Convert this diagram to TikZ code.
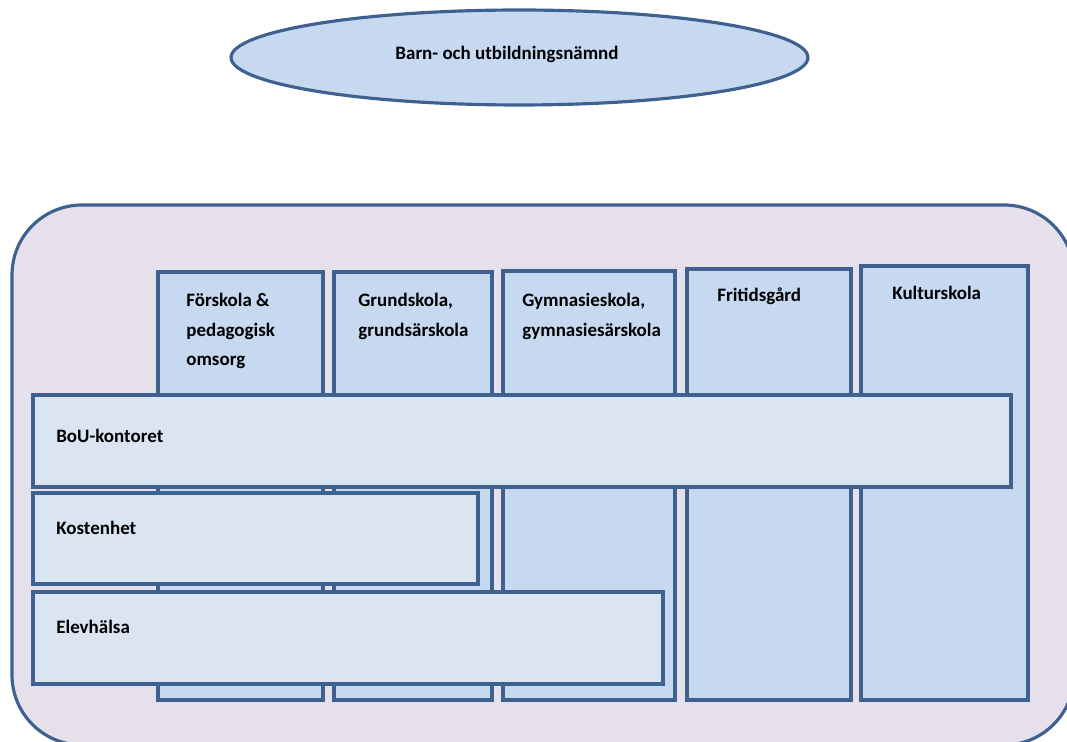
\documentclass[tikz,border=0pt]{standalone}
\usepackage{fontspec}
\setmainfont{Carlito}
\usetikzlibrary{shapes.geometric}
\definecolor{edgeblue}{HTML}{3F6190}
\definecolor{boardfill}{HTML}{C6D9F1}
\definecolor{areafill}{HTML}{E5E0EC}
\definecolor{colfill}{HTML}{C6D9F0}
\definecolor{barfill}{HTML}{DBE5F1}
\tikzset{
	areabox/.style={draw=edgeblue, fill=areafill, line width=1.8pt, rounded corners=1.4cm},
	colbox/.style={draw=edgeblue, fill=colfill, line width=1.8pt},
	barbox/.style={draw=edgeblue, fill=barfill, line width=1.8pt},
	lbl/.style={anchor=base west, inner sep=0pt, font=\fontsize{10.8}{17}\selectfont\bfseries},
}

\begin{document}
\begin{tikzpicture}[x=0.02cm, y=0.02cm]
			%%%%% START %%%%%
			
			\useasboundingbox (0, 0) rectangle (1067, -742);
			\clip (0, 0) rectangle (1067, -742);
			
			\node[ellipse, draw=edgeblue, fill=boardfill, line width=1.8pt, minimum width=11.54cm, minimum height=1.9cm] (board) at (519.5, -57.5) {};
			\node[lbl, anchor=base] (boardtext) at (507, -60) {Barn- och utbildningsnämnd};
			
			\draw[areabox] (12, -205) rectangle (1074, -745);
			
			\draw[colbox] (158, -272) rectangle (323, -700);
			\draw[colbox] (334, -272) rectangle (492, -700);
			\draw[colbox] (503, -271) rectangle (675, -700);
			\draw[colbox] (687, -269) rectangle (851, -700);
			\draw[colbox] (861, -266) rectangle (1028, -700);
			
			\node[lbl] (forskola1) at (186, -307) {Förskola \&};
			\node[lbl] (forskola2) at (186, -337) {pedagogisk};
			\node[lbl] (forskola3) at (186, -366) {omsorg};
			\node[lbl] (grund1) at (358, -307) {Grundskola,};
			\node[lbl] (grund2) at (358, -337) {grundsärskola};
			\node[lbl] (gymn1) at (522, -307) {Gymnasieskola,};
			\node[lbl] (gymn2) at (522, -337) {gymnasiesärskola};
			\node[lbl] (fritid) at (717, -302) {Fritidsgård};
			\node[lbl] (kultur) at (892, -300) {Kulturskola};
			
			\draw[barbox] (33, -395) rectangle (1011, -487);
			\draw[barbox] (33, -493) rectangle (478, -584);
			\draw[barbox] (33, -592) rectangle (663, -684);
			
			\node[lbl] (bou) at (56, -442) {BoU-kontoret};
			\node[lbl] (kost) at (56, -534) {Kostenhet};
			\node[lbl] (elev) at (56, -633) {Elevhälsa};
			
			%%%%% END %%%%%
\end{tikzpicture}
\end{document}
